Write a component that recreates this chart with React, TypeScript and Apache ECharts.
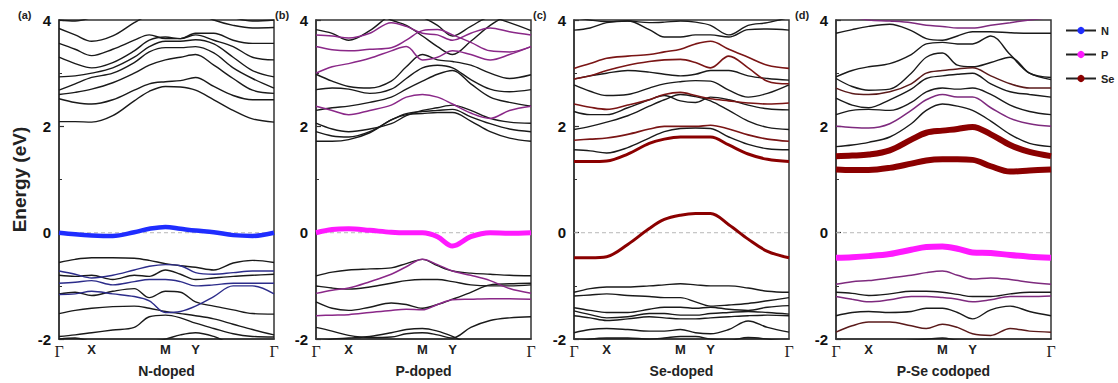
import React, { useEffect, useRef } from "react";
import * as echarts from "echarts";

// k-path sample positions (fraction of path) and high-symmetry points
const K = [0, 0.075, 0.152, 0.25, 0.35, 0.42, 0.495, 0.565, 0.635, 0.72, 0.81, 0.9, 1.0];
const KPOINTS = [0, 0.152, 0.495, 0.635, 1.0];
const KLABELS = ["Γ", "X", "M", "Y", "Γ"];
const Y_TICKS = [-2, 0, 2, 4];
const PANEL_LABELS = ["(a)", "(b)", "(c)", "(d)"];
const PANEL_NAMES = ["N-doped", "P-doped", "Se-doped", "P-Se codoped"];
const LEGEND_NAMES = ["N", "P", "Se"];

// ---- (a) N-doped ----
const A_PLAIN = [
  [2.09, 2.09, 2.08, 2.2, 2.48, 2.66, 2.75, 2.74, 2.68, 2.5, 2.3, 2.14, 2.08],
  [2.52, 2.45, 2.42, 2.5, 2.68, 2.8, 2.84, 2.86, 2.92, 2.75, 2.58, 2.5, 2.5],
  [2.6, 2.64, 2.7, 2.82, 3.0, 3.15, 3.25, 3.3, 3.35, 3.15, 2.9, 2.68, 2.62],
  [2.68, 2.8, 2.92, 3.0, 3.2, 3.4, 3.48, 3.48, 3.5, 3.38, 3.1, 2.9, 2.72],
  [2.93, 2.95, 3.0, 3.1, 3.3, 3.5, 3.6, 3.6, 3.63, 3.55, 3.3, 3.05, 2.93],
  [3.3, 3.18, 3.1, 3.2, 3.42, 3.62, 3.68, 3.65, 3.72, 3.62, 3.5, 3.3, 3.25],
  [3.56, 3.45, 3.33, 3.45, 3.62, 3.72, 3.65, 3.65, 3.75, 3.75, 3.62, 3.56, 3.56],
  [3.84, 3.72, 3.6, 3.7, 3.95, 4.1, 4.2, 4.2, 4.15, 4.0, 3.9, 3.85, 3.86],
  [4.0, 3.98, 4.05, 4.2, 4.3, 4.3, 4.3, 4.3, 4.3, 4.2, 4.05, 3.98, 4.0],
  [-0.56, -0.5, -0.47, -0.47, -0.48, -0.52, -0.58, -0.62, -0.65, -0.7, -0.57, -0.52, -0.56],
  [-0.8, -0.82, -0.8, -0.88, -0.8, -0.82, -0.7, -0.78, -0.88, -0.85, -0.82, -0.8, -0.78],
  [-1.15, -1.12, -1.18, -1.1, -1.05, -1.22, -1.1, -1.12, -1.3, -1.38, -1.45, -1.52, -1.53],
  [-1.52, -1.46, -1.42, -1.39, -1.38, -1.42, -1.48, -1.52, -1.56, -1.62, -1.72, -1.82, -1.92],
  [-1.95, -1.92, -1.88, -1.83, -1.78, -1.58, -1.55, -1.6, -1.7, -1.8, -1.9, -1.95, -1.96],
  [-2.0, -1.98, -2.05, -2.1, -2.1, -2.05, -2.0, -1.92, -1.88, -1.95, -2.1, -2.15, -2.1],
];
const A_N_WEAK = [
  [-0.72, -0.78, -0.85, -0.8, -0.7, -0.63, -0.6, -0.62, -0.75, -0.78, -0.75, -0.72, -0.72],
  [-0.95, -0.93, -0.9, -0.98, -0.92, -0.88, -0.88, -0.92, -1.0, -0.98, -0.95, -0.95, -0.95],
  [-1.16, -1.15, -1.1, -1.15, -1.2, -1.28, -1.5, -1.48, -1.38, -1.2, -1.0, -1.0, -1.15],
];
const A_N_STRONG = [
  [0, -0.03, -0.05, -0.06, 0.01, 0.075, 0.11, 0.075, 0.04, 0.01, -0.045, -0.06, 0],
];

// ---- (b) P-doped ----
const B_PLAIN = [
  [1.72, 1.72, 1.75, 1.88, 2.12, 2.22, 2.24, 2.26, 2.26, 2.1, 1.9, 1.78, 1.72],
  [1.9, 1.82, 1.8, 1.9, 2.12, 2.24, 2.28, 2.3, 2.32, 2.18, 2.05, 1.95, 1.9],
  [2.06, 1.95, 1.9, 1.95, 2.05, 2.2, 2.3, 2.35, 2.4, 2.3, 2.15, 2.08, 2.06],
  [2.3, 2.35, 2.38, 2.45, 2.55, 2.7, 2.85, 2.98, 3.05, 2.8, 2.55, 2.45, 2.38],
  [2.69, 2.72, 2.7, 2.62, 2.7, 2.9, 3.1, 3.15, 3.1, 2.88, 2.7, 2.65, 2.69],
  [2.98, 2.85, 2.75, 2.72, 2.85, 3.12, 3.35, 3.25, 3.22, 3.15, 3.0, 2.9, 2.97],
  [3.82, 3.75, 3.62, 3.8, 4.1, 4.15, 4.05, 3.9, 3.7, 3.88, 4.05, 3.95, 3.8],
  [4.3, 4.3, 4.3, 4.2, 4.0, 3.9, 3.7, 3.5, 3.35, 3.6, 3.9, 4.1, 4.2],
  [-0.81, -0.74, -0.7, -0.68, -0.66, -0.58, -0.5, -0.62, -0.72, -0.76, -0.78, -0.8, -0.81],
  [-1.0, -1.04, -1.06, -1.02, -0.95, -0.9, -0.88, -0.88, -0.92, -0.98, -1.0, -1.0, -0.98],
  [-1.3, -1.42, -1.46, -1.4, -1.32, -1.35, -1.42, -1.35, -1.25, -1.12, -0.98, -0.96, -0.95],
  [-1.78, -1.85, -1.93, -1.97, -1.96, -1.9, -1.88, -1.92, -1.98, -1.78, -1.65, -1.6, -1.58],
  [-2.05, -2.0, -1.98, -1.95, -1.88, -1.82, -1.8, -1.85, -1.95, -2.1, -2.2, -2.2, -2.2],
];
const B_P_WEAK = [
  [2.38, 2.3, 2.22, 2.3, 2.4, 2.55, 2.6, 2.55, 2.42, 2.25, 2.15, 2.3, 2.38],
  [3.0, 3.12, 3.18, 3.28, 3.42, 3.5, 3.25, 3.3, 3.42, 3.35, 3.25, 3.35, 3.5],
  [3.5, 3.44, 3.42, 3.45, 3.48, 3.62, 3.8, 3.82, 3.72, 3.58, 3.42, 3.4, 3.5],
  [3.72, 3.7, 3.66, 3.75, 3.95, 3.88, 3.75, 3.72, 3.62, 3.75, 3.85, 3.78, 3.72],
  [-1.14, -1.08, -1.04, -0.92, -0.78, -0.64, -0.5, -0.6, -0.72, -0.8, -0.9, -1.05, -1.14],
  [-1.56, -1.55, -1.54, -1.5, -1.46, -1.44, -1.45, -1.35, -1.26, -1.25, -1.24, -1.24, -1.25],
];
const B_P_STRONG = [
  [0, 0.06, 0.075, 0.045, 0.01, 0, 0, -0.075, -0.25, -0.075, 0, -0.01, 0],
];

// ---- (c) Se-doped ----
const C_PLAIN = [
  [1.56, 1.54, 1.5, 1.6, 1.78, 1.9, 1.96, 1.97, 1.96, 1.8, 1.66, 1.58, 1.56],
  [1.94, 2.0, 2.08, 2.2, 2.38, 2.5, 2.6, 2.56, 2.48, 2.3, 2.1, 1.98, 1.94],
  [2.28, 2.22, 2.22, 2.35, 2.5, 2.58, 2.48, 2.45, 2.55, 2.5, 2.4, 2.33, 2.31],
  [2.78, 2.66, 2.58, 2.6, 2.72, 2.8, 2.84, 2.86, 2.85, 2.68, 2.55, 2.62, 2.78],
  [2.89, 2.95, 3.0, 3.05, 3.02, 2.98, 2.95, 2.98, 3.05, 3.05, 2.95, 2.9, 2.87],
  [3.81, 3.85, 3.95, 3.98, 3.82, 3.68, 3.68, 3.72, 3.72, 3.68, 3.82, 3.83, 3.81],
  [4.05, 4.0, 3.97, 3.98, 3.95, 3.96, 3.98, 3.96, 3.9, 3.72, 3.9, 3.95, 4.05],
  [-1.12, -1.05, -1.02, -1.02, -1.0, -0.98, -0.96, -0.98, -1.0, -1.0, -1.04, -1.1, -1.12],
  [-1.19, -1.17, -1.15, -1.18, -1.2, -1.22, -1.22, -1.3, -1.38, -1.36, -1.33, -1.28, -1.22],
  [-1.41, -1.46, -1.5, -1.5, -1.44, -1.4, -1.4, -1.42, -1.4, -1.44, -1.46, -1.4, -1.37],
  [-1.47, -1.54, -1.6, -1.58, -1.52, -1.52, -1.55, -1.55, -1.52, -1.5, -1.48, -1.5, -1.53],
  [-1.56, -1.6, -1.65, -1.62, -1.58, -1.6, -1.62, -1.62, -1.6, -1.58, -1.56, -1.55, -1.56],
  [-1.88, -1.82, -1.8, -1.82, -1.85, -1.85, -1.82, -1.88, -1.9, -1.82, -1.66, -1.78, -1.87],
  [-2.05, -2.0, -1.98, -1.98, -2.0, -1.98, -1.95, -1.95, -2.0, -2.02, -1.97, -2.0, -2.05],
];
const C_SE_WEAK = [
  [1.74, 1.76, 1.78, 1.85, 1.95, 2.0, 2.0, 2.0, 2.02, 1.95, 1.84, 1.76, 1.72],
  [2.42, 2.36, 2.32, 2.4, 2.5, 2.6, 2.64, 2.58, 2.52, 2.48, 2.44, 2.42, 2.44],
  [2.89, 2.95, 3.05, 3.15, 3.22, 3.25, 3.26, 3.2, 3.1, 3.32, 3.1, 2.85, 2.8],
  [3.09, 3.18, 3.28, 3.32, 3.35, 3.4, 3.45, 3.55, 3.6, 3.45, 3.3, 3.15, 3.09],
];
const C_SE_STRONG = [
  [1.34, 1.34, 1.35, 1.48, 1.68, 1.76, 1.8, 1.8, 1.8, 1.65, 1.48, 1.38, 1.34],
  [-0.47, -0.47, -0.45, -0.22, 0.08, 0.25, 0.33, 0.36, 0.36, 0.15, -0.12, -0.35, -0.47],
];

// ---- (d) P-Se codoped ----
const D_PLAIN = [
  [1.62, 1.65, 1.7, 1.8, 2.05, 2.3, 2.42, 2.38, 2.3, 2.1, 1.85, 1.68, 1.62],
  [2.22, 2.3, 2.32, 2.3, 2.45, 2.65, 2.72, 2.7, 2.72, 2.6, 2.4, 2.28, 2.22],
  [2.53, 2.4, 2.35, 2.5, 2.7, 2.9, 2.95, 2.98, 3.0, 2.8, 2.65, 2.6, 2.55],
  [2.9, 2.75, 2.68, 2.7, 3.0, 3.3, 3.38, 3.15, 3.12, 3.2, 3.3, 3.0, 2.88],
  [2.93, 3.05, 3.12, 3.18, 3.35, 3.55, 3.58, 3.55, 3.55, 3.7, 3.35, 3.0, 2.92],
  [3.75, 3.82, 3.88, 3.92, 3.8, 3.65, 3.62, 3.7, 3.78, 3.78, 3.76, 3.75, 3.75],
  [-1.12, -1.14, -1.18, -1.15, -1.1, -1.1, -1.12, -1.16, -1.2, -1.2, -1.15, -1.12, -1.12],
  [-1.56, -1.5, -1.48, -1.5, -1.48, -1.42, -1.42, -1.5, -1.62, -1.45, -1.38, -1.48, -1.56],
  [-2.05, -2.05, -2.05, -2.05, -2.02, -2.0, -1.98, -2.02, -2.03, -2.05, -2.05, -2.05, -2.05],
];
const D_P_WEAK = [
  [2.0, 1.98, 1.97, 2.05, 2.3, 2.5, 2.6, 2.55, 2.55, 2.35, 2.15, 2.05, 2.0],
  [4.1, 4.05, 4.0, 3.98, 3.95, 3.9, 3.88, 3.85, 3.85, 3.9, 3.95, 4.0, 4.05],
  [-0.97, -0.92, -0.9, -0.85, -0.8, -0.75, -0.72, -0.8, -0.87, -0.85, -0.88, -0.93, -0.97],
  [-1.2, -1.25, -1.3, -1.26, -1.2, -1.2, -1.22, -1.25, -1.3, -1.26, -1.2, -1.2, -1.19],
];
const D_SE_WEAK = [
  [2.72, 2.62, 2.6, 2.65, 2.8, 3.0, 3.05, 3.08, 3.1, 2.95, 2.8, 2.72, 2.72],
  [-1.87, -1.75, -1.68, -1.68, -1.75, -1.8, -1.72, -1.78, -1.9, -1.93, -1.8, -1.85, -1.87],
];
const D_SE_STRONG = [
  [1.19, 1.18, 1.18, 1.22, 1.3, 1.36, 1.38, 1.38, 1.37, 1.25, 1.15, 1.17, 1.19],
  [1.44, 1.45, 1.47, 1.55, 1.75, 1.88, 1.92, 1.95, 1.99, 1.85, 1.65, 1.52, 1.44],
];
const D_P_STRONG = [
  [-0.47, -0.46, -0.44, -0.4, -0.32, -0.27, -0.26, -0.3, -0.37, -0.38, -0.42, -0.45, -0.47],
];

const BLUE = "#1f2dff";
const MAGENTA = "#ff1aff";
const DARKRED = "#8b0000";

const PANELS = [
  { groups: [
    { bands: A_PLAIN, color: "#1a1a1a", width: 1.4 },
    { bands: A_N_WEAK, color: "#2c2c8a", width: 1.4 },
    { bands: A_N_STRONG, color: BLUE, width: 4.5 },
  ] },
  { groups: [
    { bands: B_PLAIN, color: "#1a1a1a", width: 1.4 },
    { bands: B_P_WEAK, color: "#8a2888", width: 1.5 },
    { bands: B_P_STRONG, color: MAGENTA, width: 5 },
  ] },
  { groups: [
    { bands: C_PLAIN, color: "#1a1a1a", width: 1.4 },
    { bands: C_SE_WEAK, color: "#7a1515", width: 1.6 },
    { bands: C_SE_STRONG, color: DARKRED, width: 3 },
  ] },
  { groups: [
    { bands: D_PLAIN, color: "#1a1a1a", width: 1.4 },
    { bands: D_P_WEAK, color: "#7e2a7e", width: 1.5 },
    { bands: D_SE_WEAK, color: "#5a1a1a", width: 1.5 },
    { bands: D_SE_STRONG, color: DARKRED, width: 6 },
    { bands: D_P_STRONG, color: MAGENTA, width: 6 },
  ] },
];

const GRID_LEFT = [59, 316, 574, 836];
const GRID_W = 215;
const GRID_TOP = 20;
const GRID_H = 320;

export default function App() {
  const ref = useRef<HTMLDivElement>(null);
  useEffect(() => {
    if (!ref.current) return;
    const chart = echarts.init(ref.current, null, { renderer: "svg" });
    const font = "Liberation Sans, Arial, sans-serif";
    const grids = GRID_LEFT.map((l) => ({
      left: l, top: GRID_TOP, width: GRID_W, height: GRID_H,
      show: true, borderColor: "#333", borderWidth: 1.5, backgroundColor: "transparent",
    }));
    const xAxes = GRID_LEFT.map((_, i) => ({
      gridIndex: i, type: "value", min: 0, max: 1,
      axisLine: { show: true, onZero: false, lineStyle: { color: "#333", width: 1.5 } },
      axisTick: { show: false },
      splitLine: { show: false },
      axisLabel: {
        customValues: KPOINTS,
        margin: 4,
        formatter: (v: number) => {
          const idx = KPOINTS.findIndex((p) => Math.abs(p - v) < 1e-6);
          if (idx < 0) return "";
          const t = KLABELS[idx];
          return t === "Γ" ? "{g|" + t + "}" : "{s|" + t + "}";
        },
        rich: {
          g: { fontFamily: "Liberation Serif, serif", fontSize: 16, color: "#222" },
          s: { fontFamily: font, fontWeight: "bold", fontSize: 13, color: "#222" },
        },
      },
      name: PANEL_NAMES[i],
      nameLocation: "middle",
      nameGap: 19,
      nameTextStyle: { fontFamily: font, fontSize: 14, fontWeight: "bold", color: "#222" },
    }));
    const yAxes = GRID_LEFT.map((_, i) => ({
      gridIndex: i, type: "value", min: Y_TICKS[0], max: Y_TICKS[Y_TICKS.length - 1], interval: 2,
      axisLine: { show: true, onZero: false, lineStyle: { color: "#333", width: 1.5 } },
      axisTick: { show: true, inside: true, length: 5, lineStyle: { color: "#333", width: 1.2 } },
      minorTick: { show: true, splitNumber: 2, length: 3, lineStyle: { color: "#333", width: 1 } },
      splitLine: { show: false },
      axisLabel: { fontFamily: font, fontSize: 15, fontWeight: "bold", color: "#111", margin: 8 },
      ...(i === 0
        ? {
            name: "Energy (eV)", nameLocation: "middle", nameGap: 30, nameRotate: 90,
            nameTextStyle: { fontFamily: font, fontSize: 19, fontWeight: "bold", color: "#222" },
          }
        : {}),
    }));

    const series: any[] = [];
    PANELS.forEach((p, i) => {
      series.push({
        type: "line", xAxisIndex: i, yAxisIndex: i, silent: true, showSymbol: false, z: 1,
        data: [[0, 0], [1, 0]],
        lineStyle: { color: "#b8b8b8", width: 1, type: [4, 3] },
      });
      p.groups.forEach((g) => {
        g.bands.forEach((b) => {
          series.push({
            type: "line", xAxisIndex: i, yAxisIndex: i, silent: true, showSymbol: false,
            smooth: 0.35, clip: true, z: g.width > 2 ? 4 : 3,
            data: K.map((k, j) => [k, b[j]]),
            lineStyle: { color: g.color, width: g.width },
          });
        });
      });
    });
    const legendColors = [BLUE, MAGENTA, DARKRED];
    LEGEND_NAMES.forEach((n, i) => {
      series.push({
        type: "line", name: n, xAxisIndex: 0, yAxisIndex: 0, data: [],
        symbol: "circle", symbolSize: 8,
        itemStyle: { color: legendColors[i] },
        lineStyle: { color: "#222", width: 1.5 },
      });
    });

    chart.setOption({
      animation: false,
      backgroundColor: "#fff",
      title: PANEL_LABELS.map((t, i) => ({
        text: t, left: GRID_LEFT[i] - 41, top: 9, padding: 0,
        textStyle: { fontFamily: font, fontSize: 11, fontWeight: "bold", color: "#222" },
      })),
      legend: {
        data: LEGEND_NAMES, orient: "vertical", left: 1060, top: 20,
        itemWidth: 30, itemHeight: 9, itemGap: 13,
        textStyle: { fontFamily: font, fontSize: 11, fontWeight: "bold", color: "#222" },
      },
      grid: grids,
      xAxis: xAxes,
      yAxis: yAxes,
      series,
    });
    return () => chart.dispose();
  }, []);
  return (
    <div
      ref={ref}
      style={{ position: "absolute", left: 0, top: 0, width: 1118, height: 383, background: "#fff" }}
    />
  );
}
